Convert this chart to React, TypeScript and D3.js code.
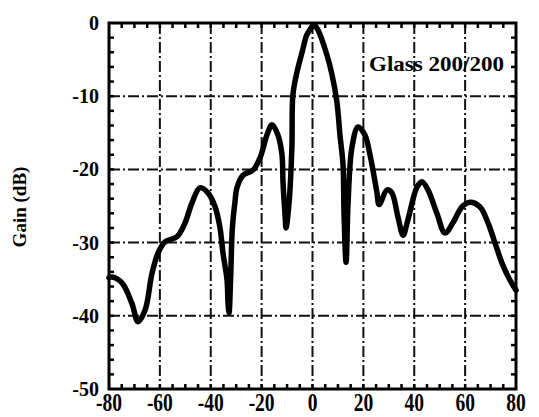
import React, { useEffect, useRef } from "react";
import * as d3 from "d3";

// radiation pattern, angle in degrees vs gain in dB
const angles = [
  -80, -78.8, -74.9, -71, -68.6, -65.8, -63.1, -60.7, -58, -53.3, -50.1, -47.4,
  -44.2, -41.1, -38.3, -36.4, -35.2, -33.6, -33.2, -32.8, -32.2, -31.5, -30.5,
  -29.7, -27.3, -23.4, -20.6, -17.9, -15.9, -13.6, -12, -11.6, -10.8, -10.4,
  -9.2, -8.1, -7.7, -6.1, -4.1, -2.2, -0.2, 0.5, 2.2, 5.7, 7.7, 9.6, 10.8, 12,
  12.4, 13.2, 14, 15.5, 17.9, 20.6, 22.6, 25.3, 26.2, 29.3, 31.2, 33.6, 35.6,
  37.5, 41.1, 43, 45.4, 48.9, 52.1, 55.2, 58.8, 61.9, 65.8, 69, 71.7, 74.5,
  77.6, 80,
];
const gains = [
  -34.8, -34.7, -35.5, -38.3, -40.8, -39.2, -34.2, -31.4, -29.9, -29.2, -27.3,
  -24.6, -22.5, -23.2, -25.1, -27.9, -31.4, -35.1, -38.3, -39.6, -35, -28,
  -24.5, -22.5, -20.8, -20.1, -18.4, -15.3, -13.9, -15.3, -18, -21.7, -26.2,
  -28, -24.5, -17, -9.8, -6.7, -4, -1.6, -0.5, -0.2, -1, -4.4, -7.1, -10.8,
  -15.3, -19.4, -26.2, -32.7, -24.5, -17, -14.2, -15.3, -18, -23.1, -24.8,
  -22.8, -23.2, -26.5, -29, -26.9, -22.4, -21.7, -22.8, -26, -28.7, -27.3,
  -25.1, -24.5, -25.1, -27.3, -30, -32.8, -35.1, -36.5,
];
const xTicks = [-80, -60, -40, -20, 0, 20, 40, 60, 80];
const yTicks = [0, -10, -20, -30, -40, -50];
const xLabel = "";
const yLabel = "Gain (dB)";
const note = "Glass 200/200";

function App() {
  const ref = useRef<SVGSVGElement>(null);

  useEffect(() => {
    const svg = d3.select(ref.current);
    svg.selectAll("*").remove();

    const left = 109, right = 516, top = 23, bottom = 389;
    const x = d3.scaleLinear().domain([-80, 80]).range([left, right]);
    const y = d3.scaleLinear().domain([-50, 0]).range([bottom, top]);
    const font = "'Liberation Serif', 'DejaVu Serif', serif";

    const g = svg.append("g");

    // dash-dot grid
    g.selectAll(".gx")
      .data(xTicks.slice(1, -1))
      .join("line")
      .attr("x1", (d) => x(d))
      .attr("x2", (d) => x(d))
      .attr("y1", top)
      .attr("y2", bottom)
      .attr("stroke", "#111")
      .attr("stroke-width", 2)
      .attr("stroke-dasharray", "11,3,2,3");
    g.selectAll(".gy")
      .data(yTicks.slice(1, -1))
      .join("line")
      .attr("x1", left)
      .attr("x2", right)
      .attr("y1", (d) => y(d))
      .attr("y2", (d) => y(d))
      .attr("stroke", "#111")
      .attr("stroke-width", 2)
      .attr("stroke-dasharray", "11,3,2,3");

    // minor ticks, pointing inward
    const xMinor = d3.range(-75, 80, 5);
    const yMinor = d3.range(-48, 0, 2);
    const tk = 5;
    xMinor.forEach((d) => {
      g.append("line").attr("x1", x(d)).attr("x2", x(d)).attr("y1", top).attr("y2", top + tk)
        .attr("stroke", "#000").attr("stroke-width", 2.5);
      g.append("line").attr("x1", x(d)).attr("x2", x(d)).attr("y1", bottom).attr("y2", bottom - tk)
        .attr("stroke", "#000").attr("stroke-width", 2.5);
    });
    yMinor.forEach((d) => {
      g.append("line").attr("x1", left).attr("x2", left + tk).attr("y1", y(d)).attr("y2", y(d))
        .attr("stroke", "#000").attr("stroke-width", 2.5);
      g.append("line").attr("x1", right).attr("x2", right - tk).attr("y1", y(d)).attr("y2", y(d))
        .attr("stroke", "#000").attr("stroke-width", 2.5);
    });

    // frame
    g.append("rect")
      .attr("x", left)
      .attr("y", top)
      .attr("width", right - left)
      .attr("height", bottom - top)
      .attr("fill", "none")
      .attr("stroke", "#000")
      .attr("stroke-width", 3);

    // curve
    const pts: [number, number][] = angles.map((a, i) => [a, gains[i]]);
    const line = d3
      .line<[number, number]>()
      .x((d) => x(d[0]))
      .y((d) => y(d[1]))
      .curve(d3.curveCatmullRom.alpha(0.5));
    g.append("path")
      .datum(pts)
      .attr("d", line)
      .attr("fill", "none")
      .attr("stroke", "#000")
      .attr("stroke-width", 5.5)
      .attr("stroke-linejoin", "round")
      .attr("stroke-linecap", "round");

    // tick labels
    g.selectAll(".yl")
      .data(yTicks)
      .join("text")
      .attr("x", 99)
      .attr("y", (d) => y(d) + 7)
      .attr("text-anchor", "end")
      .attr("font-family", font)
      .attr("font-weight", "bold")
      .attr("font-size", 20)
      .text((d) => String(d));
    g.selectAll(".xl")
      .data(xTicks)
      .join("text")
      .attr("transform", (d) => `translate(${x(d)},411) scale(0.78,1)`)
      .attr("text-anchor", "middle")
      .attr("font-family", font)
      .attr("font-weight", "bold")
      .attr("font-size", 25)
      .text((d) => String(d));

    // annotation
    g.append("text")
      .attr("x", 369)
      .attr("y", 71)
      .attr("font-family", font)
      .attr("font-weight", "bold")
      .attr("font-size", 21)
      .attr("textLength", 135)
      .attr("lengthAdjust", "spacingAndGlyphs")
      .text(note);

    // axis title
    g.append("text")
      .attr("transform", "translate(26,207) rotate(-90)")
      .attr("text-anchor", "middle")
      .attr("font-family", font)
      .attr("font-weight", "bold")
      .attr("font-size", 19)
      .text(yLabel);
    if (xLabel) g.append("text").text(xLabel);
  }, []);

  return (
    <svg
      ref={ref}
      width={539}
      height={417}
      style={{ position: "absolute", left: 0, top: 0, background: "#fff" }}
    />
  );
}

export default App;
